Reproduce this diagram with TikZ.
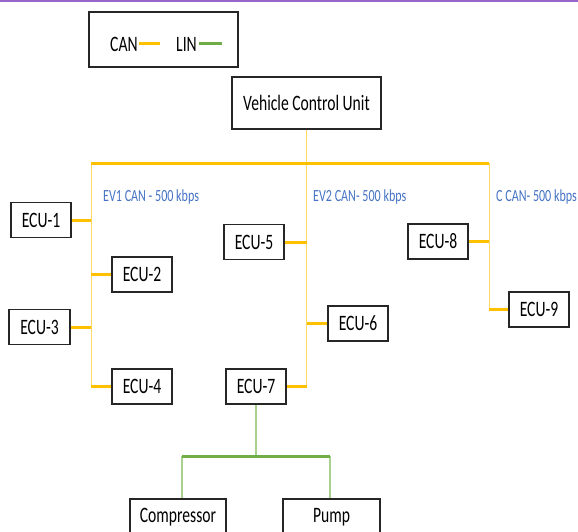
\documentclass[tikz,border=0pt]{standalone}
\usepackage{fontspec}
\setmainfont{Carlito}[FakeStretch=0.71]
\definecolor{canc}{HTML}{FFC000}
\definecolor{canthin}{HTML}{FFD966}
\definecolor{linc}{HTML}{70AD47}
\definecolor{linthin}{HTML}{A9D18E}
\definecolor{lblblue}{HTML}{4472C4}
\definecolor{topline}{HTML}{9966CC}
\tikzset{
  box/.style={draw=black!85, line width=1.2pt, fill=white, inner sep=0pt,
    font=\fontsize{22}{25}\selectfont},
  ecu/.style={box, minimum width=60pt, minimum height=35pt},
  canbus/.style={canc, line width=3pt},
  canstub/.style={canc, line width=3pt},
  canvert/.style={canthin, line width=1pt},
  linbus/.style={linc, line width=3pt},
  linvert/.style={linthin, line width=1.2pt},
  lbl/.style={lblblue, inner sep=0pt, anchor=west, font=\fontsize{17}{19}\selectfont},
  legtxt/.style={inner sep=0pt, anchor=west, font=\fontsize{22}{25}\selectfont}
}
\begin{document}
\begin{tikzpicture}[x=1pt,y=-1pt]
\useasboundingbox (0,0) rectangle (578,531);
\begin{scope}
\clip (0,0) rectangle (578,531);
\fill[topline] (0,0) rectangle (578,1.6);

% legend
\node[box, minimum width=149pt, minimum height=55pt] (legend) at (163.5,39.5) {};
\node[legtxt] (cantxt) at (110,44) {CAN};
\coordinate (canA) at (139,43);
\coordinate (canB) at (160,43);
\draw[canbus] (canA) -- (canB);
\node[legtxt] (lintxt) at (176,44) {LIN};
\coordinate (linA) at (199,43);
\coordinate (linB) at (222,43);
\draw[linbus] (linA) -- (linB);

% VCU
\node[box, minimum width=149pt, minimum height=52pt] (vcu) at (306.5,103) {Vehicle Control Unit};

% bus coordinates
\coordinate (ev1top) at (91,163);
\coordinate (ev2top) at (306.5,163);
\coordinate (ctop) at (489,163);

% ECUs
\node[ecu] (e1) at (41,220) {ECU-1};
\node[ecu] (e2) at (142,274.5) {ECU-2};
\node[ecu, minimum width=61pt] (e3) at (39.5,327) {ECU-3};
\node[ecu] (e4) at (142,386.5) {ECU-4};
\node[ecu] (e5) at (254,242) {ECU-5};
\node[ecu] (e6) at (358,323.5) {ECU-6};
\node[ecu] (e7) at (256,386.5) {ECU-7};
\node[ecu] (e8) at (438,241.5) {ECU-8};
\node[ecu] (e9) at (539,309.5) {ECU-9};

% verticals
\coordinate (ev1bot) at (91,386.5);
\coordinate (ev2bot) at (306.5,386.5);
\coordinate (cbot) at (489,309.5);
\draw[canvert] (vcu.south) -- (ev2top);
\draw[canvert] (ev1top) -- (ev1bot);
\draw[canvert] (ev2top) -- (ev2bot);
\draw[canvert] (ctop) -- (cbot);
\draw[canbus] (ev1top) -- (ctop);

% stubs
\draw[canstub] (e1.east) -- (e1.east -| ev1top);
\draw[canstub] (e2.west) -- (e2.west -| ev1top);
\draw[canstub] (e3.east) -- (e3.east -| ev1top);
\draw[canstub] (e4.west) -- (e4.west -| ev1top);
\draw[canstub] (e5.east) -- (e5.east -| ev2top);
\draw[canstub] (e6.west) -- (e6.west -| ev2top);
\draw[canstub] (e7.east) -- (e7.east -| ev2top);
\draw[canstub] (e8.east) -- (e8.east -| ctop);
\draw[canstub] (e9.west) -- (e9.west -| ctop);

% labels
\node[lbl] (l1) at (103,197) {EV1 CAN - 500 kbps};
\node[lbl] (l2) at (313,197) {EV2 CAN- 500 kbps};
\node[lbl] (l3) at (496,197) {C CAN- 500 kbps};

% LIN
\node[box, minimum width=96pt, minimum height=36pt] (comp) at (178,517) {Compressor};
\node[box, minimum width=97pt, minimum height=36pt] (pump) at (331.5,517) {Pump};
\coordinate (linmid) at (256,456);
\coordinate (linL) at (182,456);
\coordinate (linR) at (330,456);
\draw[linvert] (e7.south) -- (linmid);
\draw[linvert] (linL) -- (linL |- comp.north);
\draw[linvert] (linR) -- (linR |- pump.north);
\draw[linbus] (linL) -- (linR);
\end{scope}
\end{tikzpicture}
\end{document}
